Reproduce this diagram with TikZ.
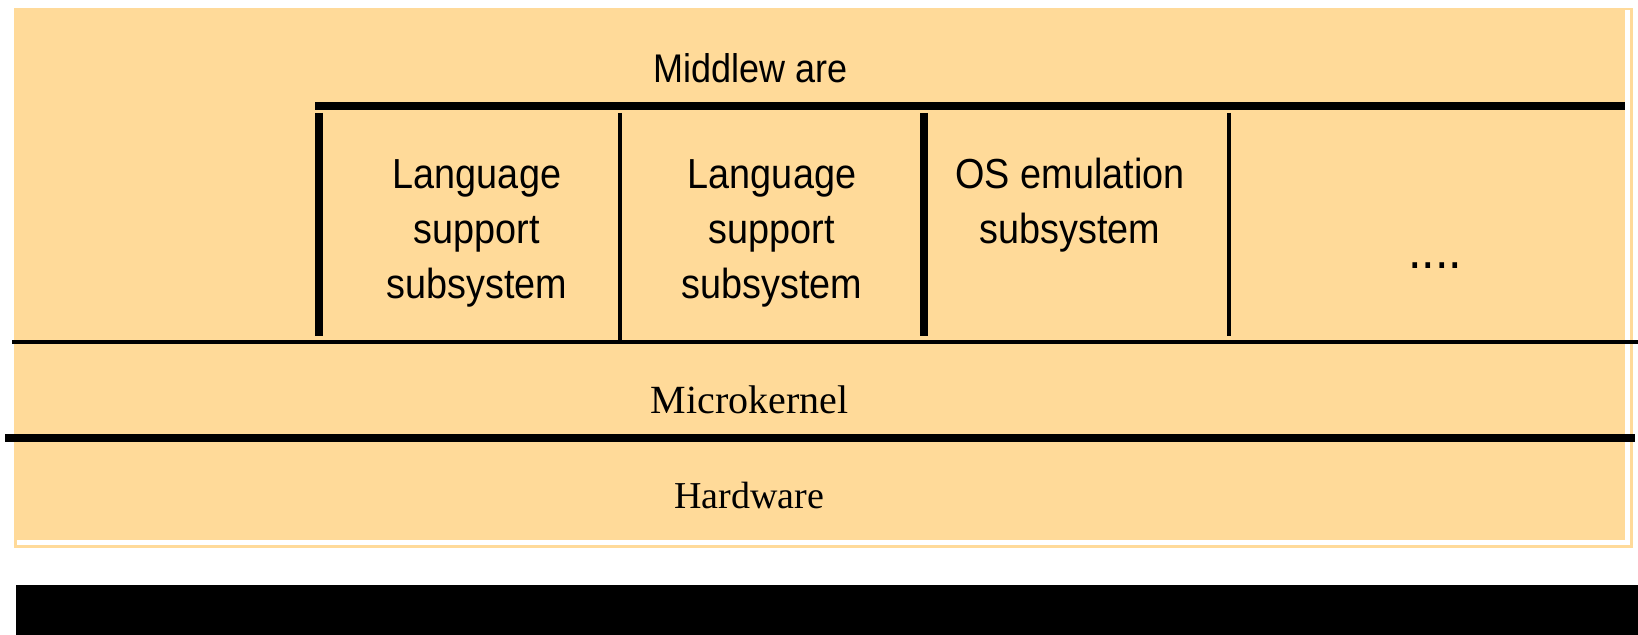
\documentclass[tikz,border=0pt]{standalone}
\usepackage{fontspec}
\setmainfont{Liberation Serif}
\newfontfamily\narrowsans[FakeStretch=0.9]{Liberation Sans}

\definecolor{panel}{HTML}{FFDA99}

\begin{document}
\begin{tikzpicture}[x=0.5pt, y=-0.5pt,
  heavyrule/.style={line width=4pt, line cap=butt},
  lightrule/.style={line width=2pt, line cap=butt},
  celltext/.style={anchor=base, inner sep=0pt,
    font=\narrowsans\fontsize{21}{27.3}\selectfont},
  layertext/.style={anchor=base, inner sep=0pt}]

\useasboundingbox (0,0) rectangle (1638,635);
\fill[white] (0,0) rectangle (1638,635);

% panel with its offset frame
\fill[panel] (14,8) rectangle (1633,548);
\fill[white] (17,10) rectangle (1630,545);
\fill[panel] (14,8) rectangle (1625,540);

% footer band
\fill[black] (16,585) rectangle (1638,635);

% middleware layer
\draw[heavyrule] (315,106) -- (1625,106);
\draw[heavyrule] (319,113) -- (319,336);
\draw[lightrule] (620,113) -- (620,340);
\draw[heavyrule] (924,113) -- (924,336);
\draw[lightrule] (1229,113) -- (1229,336);

% layer boundaries
\draw[lightrule] (12,342) -- (1638,342);
\draw[heavyrule] (5,438) -- (1635,438);

% labels
\node[layertext, font=\narrowsans\fontsize{20}{24}\selectfont] (mw) at (751,83) {Middlew are};

\node[celltext] (lang1) at (477,189)
  {\begin{tabular}[t]{@{}c@{}}Language\\support\\subsystem\end{tabular}};
\node[celltext] (lang2) at (772,189)
  {\begin{tabular}[t]{@{}c@{}}Language\\support\\subsystem\end{tabular}};
\node[celltext] (osemu) at (1070,189)
  {\begin{tabular}[t]{@{}c@{}}OS emulation\\subsystem\end{tabular}};
\node[layertext, font=\narrowsans\fontsize{27}{30}\selectfont] (more) at (1435,269) {....};

\node[layertext, font=\fontsize{20}{24}\selectfont] (mk) at (749.5,414) {Microkernel};
\node[layertext, font=\fontsize{19}{23}\selectfont] (hw) at (749,509) {Hardware};

\end{tikzpicture}
\end{document}
